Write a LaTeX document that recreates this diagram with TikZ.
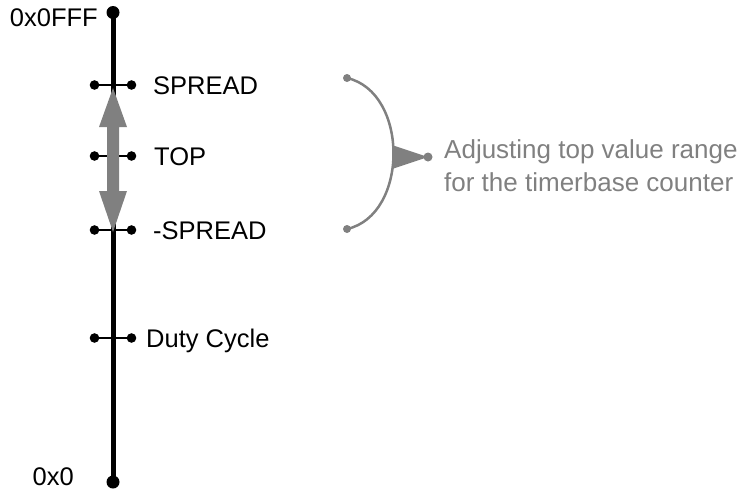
\documentclass[tikz,border=0pt]{standalone}
\usepackage{fontspec}
\setmainfont{Liberation Sans}
\definecolor{gr}{HTML}{808080}
\begin{document}
\begin{tikzpicture}[x=1pt,y=-1pt,
  lbl/.style={inner sep=0pt,font=\fontsize{25.5}{33}\selectfont},
  tick/.style={line width=2.6pt,black},
]
\useasboundingbox (0,0) rectangle (742,490);
% main axis
\coordinate (top) at (113,12.5);
\coordinate (bot) at (113,482);
\draw[line width=5pt] (top) -- (bot);
\fill (top) circle (6.5);
\fill (bot) circle (6.5);
\node[lbl,anchor=base east] (lmax) at (98,26.5) {0x0FFF};
\node[lbl,anchor=base east] (lmin) at (74,485.5) {0x0};
% ticks
\foreach \n/\y in {sp/85,tp/156,ms/230,dc/338}{
  \coordinate (\n L) at (94.5,\y);
  \coordinate (\n R) at (131.5,\y);
  \draw[tick] (\n L) -- (\n R);
  \fill (\n L) circle (4.8);
  \fill (\n R) circle (4.8);
}
\node[lbl,anchor=base west] (lsp) at (153,94.3) {SPREAD};
\node[lbl,anchor=base west] (ltp) at (154,165.3) {TOP};
\node[lbl,anchor=base west] (lms) at (153,239.3) {-SPREAD};
\node[lbl,anchor=base west] (ldc) at (146,347.3) {Duty Cycle};
% gray double arrow
\fill[gr] (113,88) -- (127,127) -- (119,127) -- (119,191) -- (127,191) -- (113,232)
  -- (99,191) -- (107,191) -- (107,127) -- (99,127) -- cycle;
% bracket
\coordinate (b1) at (347,78);
\coordinate (b2) at (347,229);
\draw[gr,line width=2.5pt] (b1) .. controls (409,92) and (409,215) .. (b2);
\fill[gr] (b1) circle (4);
\fill[gr] (b2) circle (4);
\coordinate (tip) at (428,157);
\fill[gr] (392,145) -- (tip) -- (392,169) -- cycle;
\fill[gr] (tip) circle (4.5);
\node[lbl,anchor=base west,text=gr,align=left,font=\fontsize{26}{33.3}\selectfont] (note) at (444,191.5) {Adjusting top value range\\for the timerbase counter};
\end{tikzpicture}
\end{document}
